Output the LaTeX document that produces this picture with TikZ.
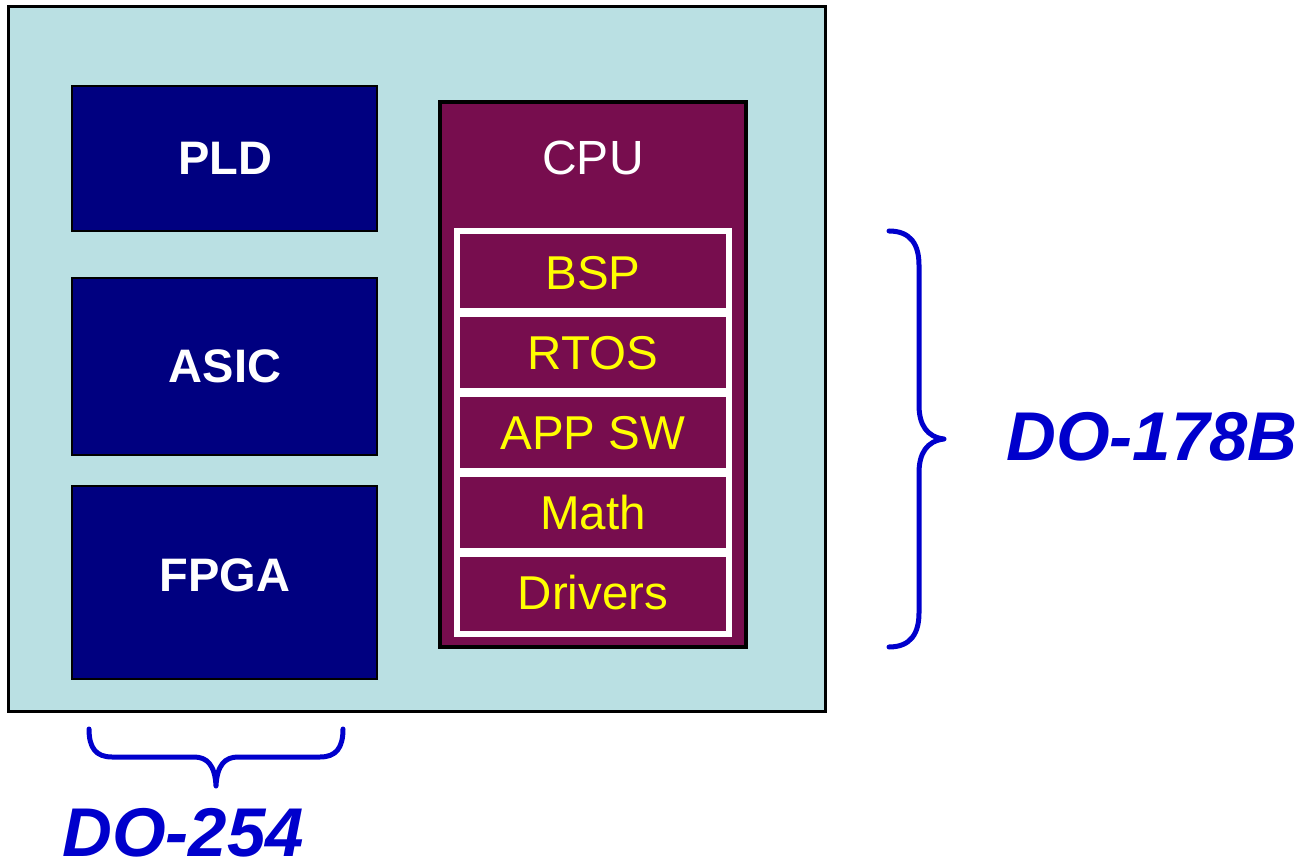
\documentclass[tikz,border=0pt]{standalone}
\usepackage{fontspec}
\setmainfont{Liberation Sans}
\definecolor{bgcyan}{HTML}{BAE0E3}
\definecolor{navybox}{HTML}{000080}
\definecolor{cpured}{HTML}{770D4E}
\definecolor{dblue}{HTML}{0000CC}
\definecolor{swyellow}{HTML}{FFFF00}
\begin{document}
\begin{tikzpicture}[x=1pt,y=-1pt,
  hwbox/.style={draw=black,line width=2.5pt,fill=navybox},
  hwtext/.style={text=white,font=\fontsize{47}{52}\selectfont\bfseries},
  swrow/.style={fill=cpured},
  swtext/.style={text=swyellow,font=\fontsize{47.5}{52}\selectfont},
  brace/.style={draw=dblue,line width=5pt,line cap=round,line join=round},
  stdlabel/.style={text=dblue,inner sep=0pt,font=\fontsize{69}{76}\selectfont\bfseries\itshape}]
\useasboundingbox (0,0) rectangle (1304,866);
% outer board
\path[draw=black,line width=3pt,fill=bgcyan] (8,7) rectangle (825,711);
% hardware boxes
\path[hwbox] (72,86) rectangle (377,231);
\node[hwtext] (pld) at (225,158) {PLD};
\path[hwbox] (72,278) rectangle (377,455);
\node[hwtext] (asic) at (225,366) {ASIC};
\path[hwbox] (72,486) rectangle (377,679);
\node[hwtext] (fpga) at (225,575) {FPGA};
% CPU
\path[draw=black,line width=4pt,fill=cpured] (440,102) rectangle (746,647);
\node[text=white,font=\fontsize{48}{52}\selectfont] (cpu) at (593,158) {CPU};
\path[fill=white] (454,228) rectangle (732,637);
\path[swrow] (460,234) rectangle (726,308);
\node[swtext] (bsp) at (593,273) {BSP};
\path[swrow] (460,317) rectangle (726,388);
\node[swtext] (rtos) at (593,353) {RTOS};
\path[swrow] (460,397) rectangle (726,468);
\node[swtext] (app) at (593,433) {APP SW};
\path[swrow] (460,477) rectangle (726,548);
\node[swtext] (math) at (593,513) {Math};
\path[swrow] (460,557) rectangle (726,631);
\node[swtext] (drv) at (593,593) {Drivers};
% right brace
\coordinate (rbTop) at (889,231);
\coordinate (rbTip) at (944,439);
\coordinate (rbBot) at (889,647);
\draw[brace] (rbTop) .. controls (911,231) and (919,245) .. (919,265) -- (919,405)
  .. controls (919,425) and (927,437) .. (rbTip)
  .. controls (927,441) and (919,453) .. (919,473) -- (919,613)
  .. controls (919,633) and (911,647) .. (rbBot);
\node[stdlabel] (do178) at (1152,437) {DO-178B};
% bottom brace
\coordinate (bbLeft) at (89,729);
\coordinate (bbTip) at (216,786);
\coordinate (bbRight) at (343,729);
\draw[brace] (bbLeft) .. controls (89,748) and (96,757) .. (112,757) -- (194,757)
  .. controls (207,757) and (215,765) .. (bbTip)
  .. controls (217,765) and (225,757) .. (238,757) -- (320,757)
  .. controls (336,757) and (343,748) .. (bbRight);
\node[stdlabel] (do254) at (183,833) {DO-254};
\end{tikzpicture}
\end{document}
